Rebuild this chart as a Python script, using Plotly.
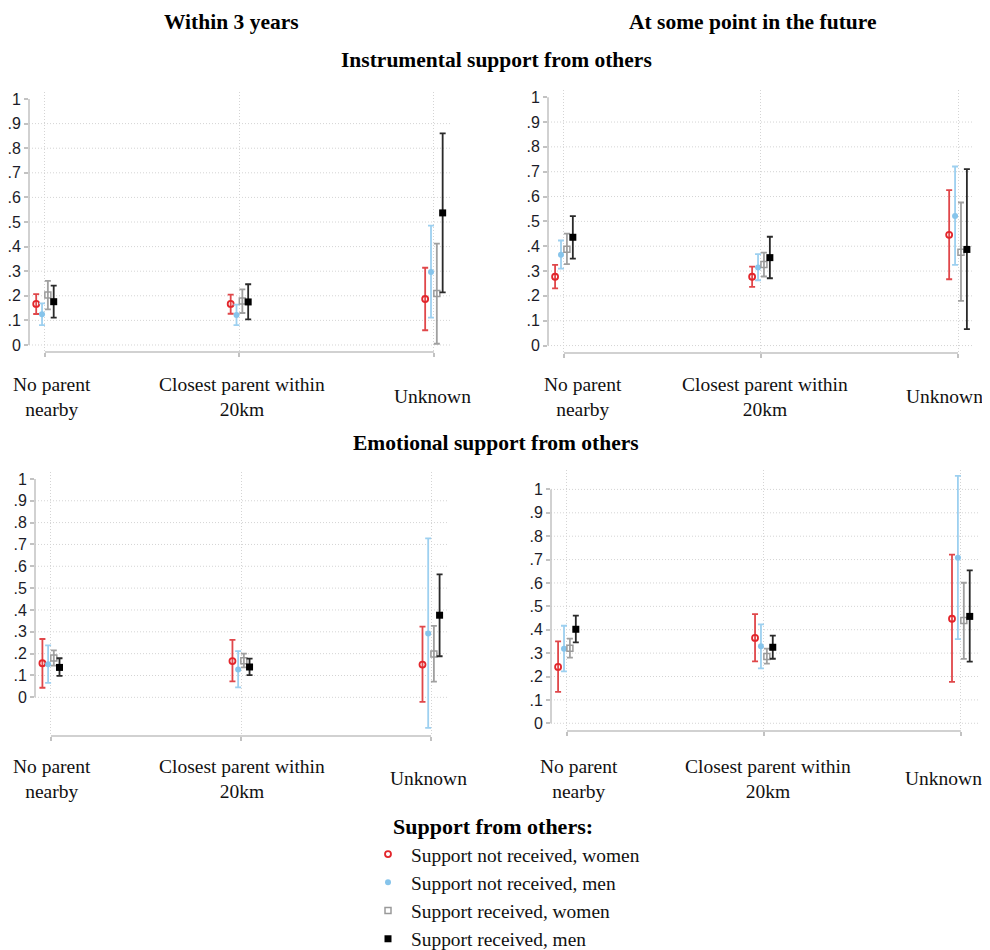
import plotly.graph_objects as go

# ---------------- data ----------------
categories = ["No parent nearby", "Closest parent within 20km", "Unknown"]
cat_labels = ["No parent<br>nearby", "Closest parent within<br>20km", "Unknown"]
series = ["Support not received, women", "Support not received, men",
          "Support received, women", "Support received, men"]
y_ticks = [0, 0.1, 0.2, 0.3, 0.4, 0.5, 0.6, 0.7, 0.8, 0.9, 1]
y_ticktext = ["0", ".1", ".2", ".3", ".4", ".5", ".6", ".7", ".8", ".9", "1"]

# Instrumental support, within 3 years (rows = series, cols = categories)
inst_3y_est = [[0.167, 0.167, 0.187], [0.125, 0.122, 0.297], [0.203, 0.179, 0.209], [0.176, 0.175, 0.537]]
inst_3y_lo = [[0.126, 0.127, 0.060], [0.081, 0.081, 0.111], [0.145, 0.130, 0.005], [0.111, 0.104, 0.214]]
inst_3y_hi = [[0.207, 0.205, 0.314], [0.169, 0.164, 0.485], [0.261, 0.226, 0.412], [0.241, 0.247, 0.860]]

# Instrumental support, at some point in the future
inst_fut_est = [[0.277, 0.277, 0.446], [0.366, 0.314, 0.522], [0.388, 0.326, 0.376], [0.436, 0.354, 0.387]]
inst_fut_lo = [[0.230, 0.236, 0.267], [0.310, 0.263, 0.325], [0.328, 0.278, 0.180], [0.350, 0.271, 0.066]]
inst_fut_hi = [[0.325, 0.318, 0.626], [0.423, 0.368, 0.721], [0.451, 0.374, 0.576], [0.521, 0.438, 0.710]]

# Emotional support, within 3 years
emo_3y_est = [[0.156, 0.166, 0.150], [0.151, 0.128, 0.292], [0.180, 0.168, 0.198], [0.137, 0.139, 0.376]]
emo_3y_lo = [[0.044, 0.073, -0.021], [0.066, 0.046, -0.140], [0.145, 0.137, 0.072], [0.098, 0.102, 0.188]]
emo_3y_hi = [[0.267, 0.263, 0.324], [0.238, 0.212, 0.728], [0.215, 0.200, 0.327], [0.179, 0.177, 0.563]]

# Emotional support, at some point in the future
emo_fut_est = [[0.241, 0.365, 0.447], [0.319, 0.329, 0.708], [0.321, 0.286, 0.439], [0.402, 0.325, 0.457]]
emo_fut_lo = [[0.134, 0.265, 0.177], [0.222, 0.235, 0.360], [0.281, 0.255, 0.275], [0.346, 0.276, 0.264]]
emo_fut_hi = [[0.350, 0.467, 0.721], [0.417, 0.423, 1.058], [0.362, 0.319, 0.601], [0.460, 0.375, 0.654]]

# ---------------- styling ----------------
OFF = 8                      # default page margin of the html body
W, H = 990 - OFF, 950 - OFF


def px_x(x):
    return (x - OFF) / W


def px_y(y):
    return 1 - (y - OFF) / H


offsets = [-0.045, -0.015, 0.015, 0.045]
marker_colors = ["#e3262c", "#86c4eb", "#9a9a9a", "#000000"]
bar_colors = ["#e0474a", "#9dd0f0", "#a0a0a0", "#2a2a2a"]
symbols = ["circle-open", "circle", "square-open", "square"]
msizes = [6, 6, 6, 7]
mline = [1.8, 0, 1.5, 0]
grid_col = "#d4d4d4"
axis_col = "#c2c2c2"
serif = "Liberation Serif, Times New Roman, serif"
sans = "Liberation Sans, Arial, sans-serif"

# panel geometry in page pixels: (x0, x1, ytop, ybottom), data ranges
panels = [
    dict(est=inst_3y_est, lo=inst_3y_lo, hi=inst_3y_hi, px=(29, 452, 92, 352),
         xr=[-0.082, 2.093], yr=[-0.0285, 1.0285], grid1=False, lab_y=396.5, lab_shift=[7, 3, -1]),
    dict(est=inst_fut_est, lo=inst_fut_lo, hi=inst_fut_hi, px=(548, 973, 90, 353),
         xr=[-0.081, 2.076], yr=[-0.030, 1.029], grid1=False, lab_y=396.5, lab_shift=[19, 4, -14]),
    dict(est=emo_3y_est, lo=emo_3y_lo, hi=emo_3y_hi, px=(35, 447, 471.7, 736),
         xr=[-0.084, 2.084], yr=[-0.177, 1.033], grid1=False, lab_y=778.5, lab_shift=[1, 1, -3]),
    dict(est=emo_fut_est, lo=emo_fut_lo, hi=emo_fut_hi, px=(551, 978, 470, 731),
         xr=[-0.081, 2.087], yr=[-0.033, 1.083], grid1=True, lab_y=778.5, lab_shift=[12, 4, -17]),
]

fig = go.Figure()
shapes = []
annotations = []

for p_i, p in enumerate(panels):
    n = "" if p_i == 0 else str(p_i + 1)
    xa, ya = "x" + n, "y" + n
    for s_i, name in enumerate(series):
        est = p["est"][s_i]
        xs = [c + offsets[s_i] for c in range(len(categories))]
        fig.add_trace(go.Scatter(
            x=xs, y=est, mode="markers", name=name,
            xaxis=xa, yaxis=ya,
            legendgroup=name, showlegend=(p_i == 0),
            marker=dict(symbol=symbols[s_i], size=msizes[s_i], color=marker_colors[s_i],
                        line=dict(width=mline[s_i], color=marker_colors[s_i])),
            error_y=dict(type="data", symmetric=False,
                         array=[h - e for h, e in zip(p["hi"][s_i], est)],
                         arrayminus=[e - l for e, l in zip(est, p["lo"][s_i])],
                         color=bar_colors[s_i], thickness=1.8, width=3),
            hovertemplate="%{y:.3f}<extra>" + name + "</extra>",
        ))
    x0, x1, yt, yb = p["px"]
    fig.update_layout(**{
        "xaxis" + n: dict(domain=[px_x(x0), px_x(x1)], range=p["xr"], tickvals=[0, 1, 2],
                          showticklabels=False,
                          showgrid=True, gridcolor=grid_col, griddash="1px,2px", gridwidth=1,
                          ticks="outside", ticklen=4, tickcolor=axis_col, tickwidth=1.5,
                          zeroline=False, showline=False, anchor=ya, fixedrange=True),
        "yaxis" + n: dict(domain=[px_y(yb), px_y(yt)], range=p["yr"], tickvals=y_ticks,
                          ticktext=y_ticktext,
                          showgrid=False, zeroline=False, showline=False,
                          ticks="outside", ticklen=4, tickcolor=axis_col, tickwidth=1.5,
                          tickfont=dict(family=sans, size=16, color="#1c1c28"),
                          anchor=xa, fixedrange=True),
    })
    # horizontal dotted grid lines
    gvals = y_ticks if p["grid1"] else y_ticks[:-1]
    for g in gvals:
        shapes.append(dict(type="line", xref=xa + " domain", yref=ya, x0=0, x1=1, y0=g, y1=g,
                           line=dict(color=grid_col, width=1, dash="1px,2px"), layer="below"))
    # axis lines spanning only the scale range (Stata style)
    shapes.append(dict(type="line", xref=xa + " domain", yref=ya, x0=0, x1=0,
                       y0=y_ticks[0], y1=y_ticks[-1], line=dict(color=axis_col, width=1.5)))
    shapes.append(dict(type="line", xref=xa, yref=ya + " domain", x0=0, x1=len(categories) - 1,
                       y0=0, y1=0, line=dict(color=axis_col, width=1.5)))
    # category labels
    for c_i, lab in enumerate(cat_labels):
        annotations.append(dict(text=lab, xref=xa, yref="paper", x=c_i, y=px_y(p["lab_y"]),
                                xshift=p["lab_shift"][c_i], showarrow=False,
                                xanchor="center", yanchor="middle", align="center",
                                font=dict(family=serif, size=19.5, color="#111111")))

# titles
for txt, cx, cy in [("Within 3 years", 231, 22), ("At some point in the future", 752, 22),
                    ("Instrumental support from others", 496, 60),
                    ("Emotional support from others", 496, 443)]:
    annotations.append(dict(text="<b>" + txt + "</b>", xref="paper", yref="paper",
                            x=px_x(cx), y=px_y(cy), showarrow=False,
                            xanchor="center", yanchor="middle",
                            font=dict(family=serif, size=21.5, color="#000000")))

# legend title
annotations.append(dict(text="<b>Support from others:</b>", xref="paper", yref="paper",
                        x=px_x(391), y=px_y(826), showarrow=False,
                        xanchor="left", yanchor="middle",
                        font=dict(family=serif, size=22, color="#000000")))

fig.update_layout(
    width=W, height=H, autosize=False,
    margin=dict(l=0, r=0, t=0, b=0, autoexpand=False),
    paper_bgcolor="white", plot_bgcolor="white",
    shapes=shapes, annotations=annotations,
    showlegend=True,
    legend=dict(x=px_x(365), y=px_y(835), xanchor="left", yanchor="top",
                font=dict(family=serif, size=19.4, color="#111111"),
                bgcolor="rgba(0,0,0,0)", borderwidth=0, traceorder="grouped",
                tracegroupgap=0, itemwidth=36, itemsizing="trace"),
)

fig.write_html("out.html")
